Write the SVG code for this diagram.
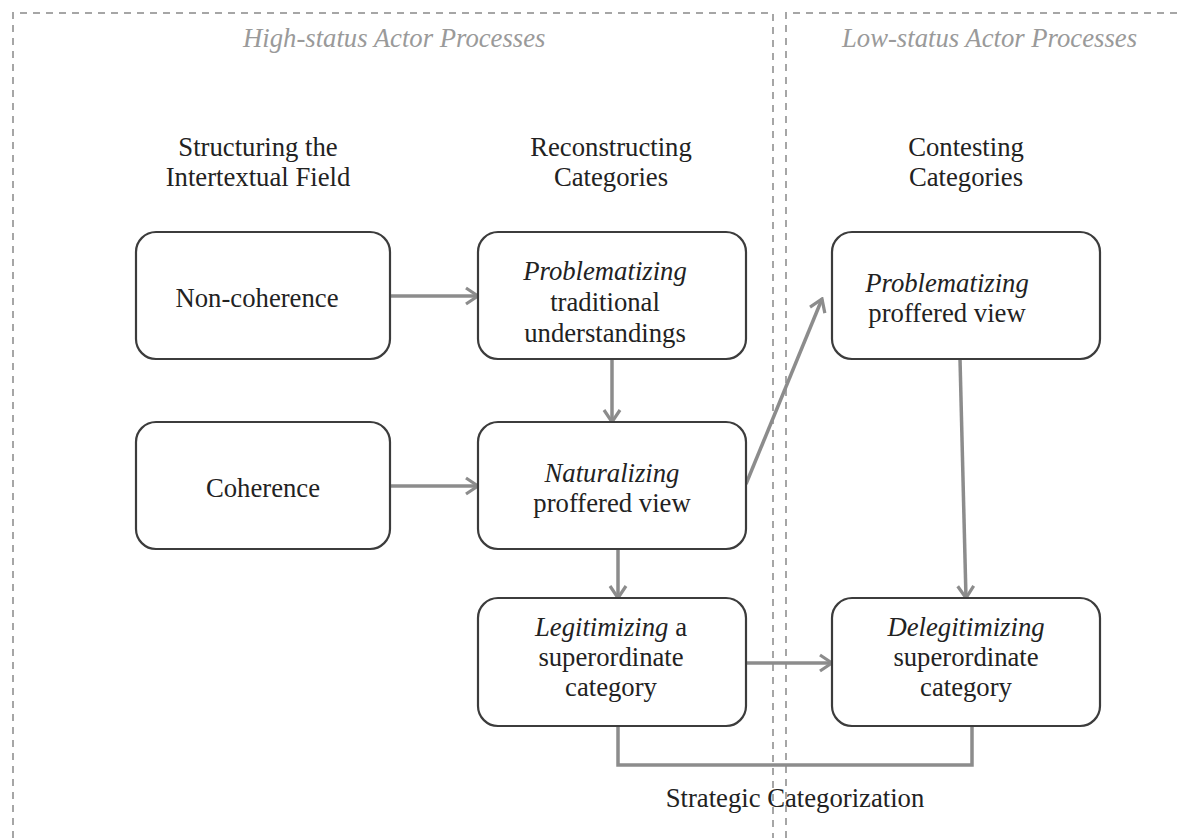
<svg xmlns="http://www.w3.org/2000/svg" width="1183" height="838" viewBox="0 0 1183 838">
  <style>
    .frame { fill: none; stroke: #a6a6a6; stroke-width: 2; stroke-dasharray: 7 6; }
    .zone { font-family: "Liberation Serif", "Times New Roman", serif; font-size: 26.7px; font-style: italic; fill: #9a9a9a; }
    .head { font-family: "Liberation Serif", "Times New Roman", serif; font-size: 26.7px; fill: #222; text-anchor: middle; }
    .box { fill: #fff; stroke: #3c3c3c; stroke-width: 2.2; }
    .label { font-family: "Liberation Serif", "Times New Roman", serif; font-size: 26.7px; fill: #222; text-anchor: middle; }
    .label .em { font-style: italic; }
    .link { fill: none; stroke: #8c8c8c; stroke-width: 3.5; }
  </style>
  <defs>
    <marker id="arrow" viewBox="0 0 16 20" refX="14" refY="10" markerWidth="16" markerHeight="20" markerUnits="userSpaceOnUse" orient="auto">
      <path d="M2,2 L14,10 L2,18" fill="none" stroke="#8c8c8c" stroke-width="3.2"/>
    </marker>
  </defs>

  <rect width="1183" height="838" fill="#fff"/>

  <!-- swim-lane frames -->
  <g id="lanes">
    <path class="frame" d="M13,838 V13 H773 V838"/>
    <path class="frame" d="M786,838 V13 H1183" stroke="#b8b8b8"/>
    <text class="zone" x="243" y="47">High-status Actor Processes</text>
    <text class="zone" x="842" y="47">Low-status Actor Processes</text>
  </g>

  <!-- column headings -->
  <g id="headings">
    <text class="head" x="258" y="156">Structuring the</text>
    <text class="head" x="258" y="186">Intertextual Field</text>
    <text class="head" x="611" y="156">Reconstructing</text>
    <text class="head" x="611" y="186">Categories</text>
    <text class="head" x="966" y="156">Contesting</text>
    <text class="head" x="966" y="186">Categories</text>
  </g>

  <!-- connectors -->
  <g id="connectors">
    <line class="link" x1="390" y1="296" x2="478" y2="296" marker-end="url(#arrow)"/>
    <line class="link" x1="390" y1="486" x2="478" y2="486" marker-end="url(#arrow)"/>
    <line class="link" x1="612" y1="359" x2="612" y2="422" marker-end="url(#arrow)"/>
    <line class="link" x1="618" y1="549" x2="618" y2="598" marker-end="url(#arrow)"/>
    <line class="link" x1="746" y1="484" x2="822" y2="299" marker-end="url(#arrow)"/>
    <line class="link" x1="960" y1="359" x2="966" y2="598" marker-end="url(#arrow)"/>
    <line class="link" x1="746" y1="663" x2="832" y2="663" marker-end="url(#arrow)"/>
    <path class="link" d="M618,726 V765 H972 V726"/>
    <text class="head" x="795" y="807">Strategic Categorization</text>
  </g>

  <g id="non-coherence">
    <rect class="box" x="136" y="232" width="254" height="127" rx="20"/>
    <text class="label" x="257" y="307">Non-coherence</text>
  </g>

  <g id="coherence">
    <rect class="box" x="136" y="422" width="254" height="127" rx="20"/>
    <text class="label" x="263" y="497">Coherence</text>
  </g>

  <g id="problematizing-traditional">
    <rect class="box" x="478" y="232" width="268" height="127" rx="20"/>
    <text class="label" x="605" y="280"><tspan class="em">Problematizing</tspan></text>
    <text class="label" x="605" y="311">traditional</text>
    <text class="label" x="605" y="342">understandings</text>
  </g>

  <g id="naturalizing">
    <rect class="box" x="478" y="422" width="268" height="127" rx="20"/>
    <text class="label" x="612" y="482"><tspan class="em">Naturalizing</tspan></text>
    <text class="label" x="612" y="512">proffered view</text>
  </g>

  <g id="legitimizing">
    <rect class="box" x="478" y="598" width="268" height="128" rx="20"/>
    <text class="label" x="611" y="636"><tspan class="em">Legitimizing</tspan> a</text>
    <text class="label" x="611" y="666">superordinate</text>
    <text class="label" x="611" y="696">category</text>
  </g>

  <g id="problematizing-proffered">
    <rect class="box" x="832" y="232" width="268" height="127" rx="20"/>
    <text class="label" x="947" y="292"><tspan class="em">Problematizing</tspan></text>
    <text class="label" x="947" y="322">proffered view</text>
  </g>

  <g id="delegitimizing">
    <rect class="box" x="832" y="598" width="268" height="128" rx="20"/>
    <text class="label" x="966" y="636"><tspan class="em">Delegitimizing</tspan></text>
    <text class="label" x="966" y="666">superordinate</text>
    <text class="label" x="966" y="696">category</text>
  </g>
</svg>
